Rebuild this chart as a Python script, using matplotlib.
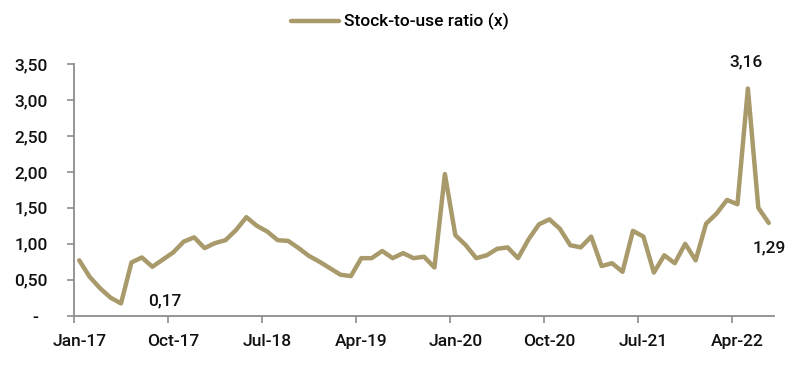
import matplotlib.pyplot as plt
import numpy as np
from matplotlib.ticker import FixedLocator, FuncFormatter

# Monthly stock-to-use ratio, Jan-17 .. Jul-22
months = ['Jan-17', 'Feb-17', 'Mar-17', 'Apr-17', 'May-17', 'Jun-17', 'Jul-17', 'Aug-17', 'Sep-17',
          'Oct-17', 'Nov-17', 'Dec-17', 'Jan-18', 'Feb-18', 'Mar-18', 'Apr-18', 'May-18', 'Jun-18',
          'Jul-18', 'Aug-18', 'Sep-18', 'Oct-18', 'Nov-18', 'Dec-18', 'Jan-19', 'Feb-19', 'Mar-19',
          'Apr-19', 'May-19', 'Jun-19', 'Jul-19', 'Aug-19', 'Sep-19', 'Oct-19', 'Nov-19', 'Dec-19',
          'Jan-20', 'Feb-20', 'Mar-20', 'Apr-20', 'May-20', 'Jun-20', 'Jul-20', 'Aug-20', 'Sep-20',
          'Oct-20', 'Nov-20', 'Dec-20', 'Jan-21', 'Feb-21', 'Mar-21', 'Apr-21', 'May-21', 'Jun-21',
          'Jul-21', 'Aug-21', 'Sep-21', 'Oct-21', 'Nov-21', 'Dec-21', 'Jan-22', 'Feb-22', 'Mar-22',
          'Apr-22', 'May-22', 'Jun-22', 'Jul-22']
ratio = [0.77, 0.54, 0.38, 0.25, 0.17, 0.74, 0.81, 0.68, 0.78,
         0.88, 1.03, 1.09, 0.94, 1.01, 1.05, 1.19, 1.37, 1.25,
         1.17, 1.05, 1.04, 0.94, 0.83, 0.75, 0.66, 0.57, 0.55,
         0.80, 0.80, 0.90, 0.80, 0.87, 0.80, 0.82, 0.67, 1.97,
         1.12, 0.98, 0.80, 0.84, 0.93, 0.95, 0.80, 1.06, 1.27,
         1.34, 1.21, 0.98, 0.95, 1.10, 0.69, 0.73, 0.61, 1.18,
         1.10, 0.60, 0.84, 0.73, 1.00, 0.77, 1.28, 1.42, 1.61,
         1.55, 3.16, 1.50, 1.29]

labelled = {4: (44, 3), 64: (-2, 27), 66: (1, -25)}  # index -> text offset (px)

color = '#A89A6A'
plt.rcParams['font.family'] = ['Roboto', 'DejaVu Sans']
plt.rcParams['font.size'] = 12.5
plt.rcParams['font.weight'] = 'medium'

x = np.arange(len(ratio))

fig = plt.figure(figsize=(8, 3.84), dpi=100)
ax = fig.add_axes([0.0925, 0.178, 0.875, 0.655])

line, = ax.plot(x, ratio, color=color, lw=3.2, solid_joinstyle='round',
                solid_capstyle='round', label='Stock-to-use ratio (x)')

for i, (dx, dy) in labelled.items():
    ax.annotate(f'{ratio[i]:.2f}'.replace('.', ','), xy=(x[i], ratio[i]),
                xytext=(dx, dy), textcoords='offset pixels',
                ha='center', va='center', color='#111111')

ax.set_xlim(-0.5, len(ratio) - 0.5)
ax.set_ylim(0, 3.5)

ax.set_yticks(np.arange(0, 3.51, 0.5))
ax.yaxis.set_major_formatter(FuncFormatter(
    lambda v, p: '-  ' if abs(v) < 1e-9 else f'{v:.2f}'.replace('.', ',')))

# labels centered on categories, tick marks between categories
ax.xaxis.set_major_locator(FixedLocator(x[::9]))
ax.set_xticklabels(months[::9])
ax.xaxis.set_minor_locator(FixedLocator(x[::9] - 0.5))
ax.tick_params(axis='x', which='major', length=0, pad=13)
ax.tick_params(axis='x', which='minor', length=5, width=1.2, color='#8c8c8c', direction='out')
ax.tick_params(axis='y', length=5, width=1.2, color='#8c8c8c', pad=14)
ax.tick_params(labelcolor='#111111')

for s in ['top', 'right']:
    ax.spines[s].set_visible(False)
for s in ['left', 'bottom']:
    ax.spines[s].set_color('#8c8c8c')
    ax.spines[s].set_linewidth(1.3)

fig.legend(handles=[line], loc='center', bbox_to_anchor=(0.5, 0.943),
           frameon=False, handlelength=2.8, handletextpad=0.3)

fig.savefig('out.png', dpi=100)
plt.close(fig)
